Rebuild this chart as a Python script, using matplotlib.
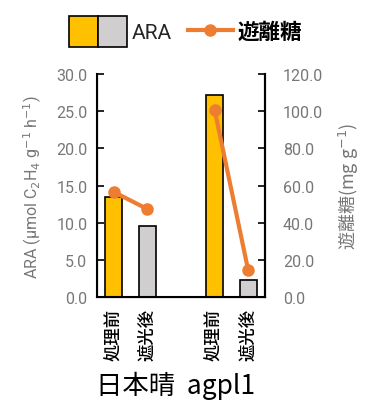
import numpy as np
import matplotlib
matplotlib.use("Agg")
import matplotlib.pyplot as plt
from matplotlib.patches import Patch
from matplotlib.lines import Line2D
from matplotlib.legend_handler import HandlerTuple

plt.rcParams["font.family"] = ["Roboto", "Noto Sans CJK JP", "DejaVu Sans"]

# ── data ──
positions = [0, 1, 3, 4]
treatments = ["処理前", "遮光後", "処理前", "遮光後"]
ara = [13.5, 9.6, 27.2, 2.3]
sugar_before_after = [[56.5, 47.3], [100.8, 14.3]]
cultivar = "日本晴  agpl1"

left_ticks = np.arange(0, 30.1, 5)
right_ticks = np.arange(0, 120.1, 20)

YELLOW = "#FFC000"
GREY = "#D0CECE"
ORANGE = "#ED7D31"
TICK_GREY = "#777777"

fig = plt.figure(figsize=(3.65, 4.02), dpi=100)
ax = fig.add_axes([0.266, 0.259, 0.46, 0.554])

bar_colors = [YELLOW, GREY, YELLOW, GREY]
ax.bar(positions, ara, width=0.5, color=bar_colors, edgecolor="black", linewidth=1.2)
ax.set_xlim(-0.5, 4.5)
ax.set_ylim(0, 30)
ax.set_yticks(left_ticks)
ax.set_yticklabels([f"{v:.1f}" for v in left_ticks], color=TICK_GREY, fontsize=11.5)
ax.set_xticks(positions)
ax.set_xticklabels(treatments, rotation=90, fontsize=12.5, fontweight="medium",
                   family=["Noto Sans CJK JP"])
ax.tick_params(axis="y", direction="in", length=5, width=1.2, pad=7)
ax.tick_params(axis="x", length=0, pad=8)
ax.spines["top"].set_visible(False)
for s in ["left", "right", "bottom"]:
    ax.spines[s].set_linewidth(1.5)
ax.set_ylabel("ARA (μmol C$_2$H$_4$ g$^{-1}$ h$^{-1}$)", color=TICK_GREY, fontsize=11.5,
              labelpad=9)

ax2 = ax.twinx()
ax2.set_ylim(0, 120)
ax2.set_yticks(right_ticks)
ax2.set_yticklabels([f"{v:.1f}" for v in right_ticks], color=TICK_GREY, fontsize=11.5)
ax2.tick_params(axis="y", direction="in", length=5, width=1.2, pad=13)
ax2.spines["top"].set_visible(False)
ax2.spines["right"].set_linewidth(1.5)
for (x0, x1), vals in zip([(0, 1), (3, 4)], sugar_before_after):
    ax2.plot([x0, x1], vals, color=ORANGE, linewidth=3, marker="o", markersize=8)
ax2.set_ylabel("遊離糖(mg g$^{-1}$)", color=TICK_GREY, fontsize=13, labelpad=10,
               family="Noto Sans CJK JP")

fig.text(0.48, 0.04, cultivar, ha="center", va="center", fontsize=19,
         family=["Noto Sans CJK JP"])

# legend: bar pair then line
bar_handle = (Patch(facecolor=YELLOW, edgecolor="black", linewidth=1.2),
              Patch(facecolor=GREY, edgecolor="black", linewidth=1.2))
fig.legend([bar_handle], ["ARA"], handler_map={tuple: HandlerTuple(ndivide=None, pad=0)},
           loc="center", bbox_to_anchor=(0.33, 0.92), frameon=False,
           handlelength=2.8, handleheight=1.9, handletextpad=0.2,
           prop={"size": 15}, labelcolor="#262626")
line_handle = Line2D([], [], color=ORANGE, linewidth=3, marker="o", markersize=8)
fig.legend([line_handle], ["遊離糖"], loc="center", bbox_to_anchor=(0.67, 0.92),
           frameon=False, handlelength=2.1, handletextpad=0.2,
           prop={"family": ["Noto Sans CJK JP"], "size": 15.5, "weight": "bold"})

fig.savefig("out.png", dpi=100)
